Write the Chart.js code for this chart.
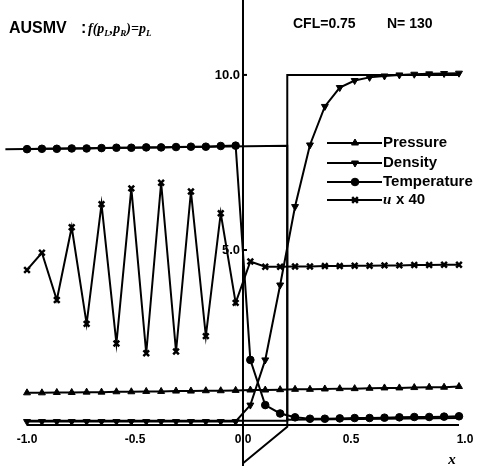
<!DOCTYPE html>
<html>
<head>
<meta charset="utf-8">
<script src="https://cdn.jsdelivr.net/npm/chart.js@4.4.0/dist/chart.umd.min.js"></script>
<style>
html, body { margin: 0; padding: 0; background: #fff; }
#wrap { width: 478px; height: 466px; position: relative; }
</style>
</head>
<body>
<div id="wrap"><canvas id="c"></canvas></div>
<script>
// cell positions
const xs = [-1.0, -0.931, -0.862, -0.793, -0.724, -0.655, -0.586, -0.517, -0.448, -0.379,
            -0.310, -0.241, -0.172, -0.103, -0.034, 0.034, 0.103, 0.172, 0.241, 0.310,
            0.379, 0.448, 0.517, 0.586, 0.655, 0.724, 0.793, 0.862, 0.931, 1.0];

const pressure = [0.92, 0.92, 0.93, 0.93, 0.94, 0.94, 0.95, 0.95, 0.96, 0.96,
                  0.97, 0.97, 0.98, 0.98, 0.99, 1.0, 1.0, 1.01, 1.02, 1.02,
                  1.03, 1.04, 1.04, 1.05, 1.06, 1.06, 1.07, 1.08, 1.08, 1.1];
const density = [0.1, 0.1, 0.1, 0.1, 0.1, 0.1, 0.1, 0.1, 0.1, 0.1,
                 0.1, 0.1, 0.1, 0.1, 0.1, 0.57, 1.86, 4.0, 6.24, 8.0,
                 9.1, 9.64, 9.84, 9.93, 9.97, 10.0, 10.02, 10.03, 10.04, 10.05];
const temperature = [7.88, 7.89, 7.89, 7.9, 7.9, 7.91, 7.92, 7.92, 7.93, 7.93,
                     7.94, 7.95, 7.95, 7.97, 7.98, 1.86, 0.57, 0.33, 0.22, 0.18,
                     0.18, 0.19, 0.2, 0.2, 0.21, 0.22, 0.23, 0.23, 0.24, 0.25];
const velocity40 = [4.43, 4.92, 3.57, 5.65, 2.89, 6.31, 2.33, 6.76, 2.05, 6.92,
                    2.1, 6.67, 2.54, 6.05, 3.49, 4.67, 4.52, 4.52, 4.53, 4.53,
                    4.54, 4.54, 4.55, 4.55, 4.56, 4.56, 4.57, 4.57, 4.58, 4.58];

// exact solution
const exactRhoX = [-1.0, 0.205, 0.205, 1.0];
const exactRho = [0.12, 0.12, 10.0, 10.0];
const exactTX = [-1.1, 0.205, 0.205, 1.0];
const exactT = [7.88, 7.98, 0.15, 0.2];
const exactUX = [0.205, 0.205, 0.0];
const exactU = [0.2, -0.05, -1.09];

const xTicks = [-1.0, -0.5, 0.0, 0.5, 1.0];
const yTicks = [5.0, 10.0];
const seriesNames = ['Pressure', 'Density', 'Temperature', 'u x 40'];

function pts(xv, yv) {
    return xv.map((x, i) => ({ x: x, y: yv[i] }));
}

function series(label, yv, style, extra) {
    return Object.assign({
        label: label,
        data: pts(xs, yv),
        borderColor: '#000',
        backgroundColor: '#000',
        borderWidth: 2,
        pointStyle: style,
        pointRadius: 4,
        pointBorderWidth: 1,
        pointBackgroundColor: '#000',
        pointBorderColor: '#000',
        tension: 0
    }, extra || {});
}

function exact(xv, yv) {
    return {
        label: 'exact',
        data: pts(xv, yv),
        borderColor: '#000',
        borderWidth: 2,
        pointRadius: 0,
        tension: 0
    };
}

const font = '"Liberation Sans", Arial, sans-serif';

const decor = {
    id: 'decor',
    afterDatasetsDraw(chart) {
        const c = chart.ctx;
        const xS = chart.scales.x, yS = chart.scales.y;
        const x0 = xS.getPixelForValue(0), y0 = yS.getPixelForValue(0);
        c.save();
        c.strokeStyle = '#000';
        c.fillStyle = '#000';
        c.lineWidth = 2;
        // axes
        c.beginPath();
        c.moveTo(x0, 0);
        c.lineTo(x0, chart.height);
        c.moveTo(xS.getPixelForValue(-1), y0);
        c.lineTo(xS.getPixelForValue(1), y0);
        c.stroke();
        // y ticks
        c.font = 'bold 13px ' + font;
        c.textAlign = 'right';
        c.textBaseline = 'middle';
        yTicks.forEach(v => {
            const py = yS.getPixelForValue(v);
            c.beginPath();
            c.moveTo(x0, py);
            c.lineTo(x0 + 4, py);
            c.stroke();
            c.fillText(v.toFixed(1), x0 - 3, py);
        });
        // x ticks
        c.font = 'bold 12px ' + font;
        c.textAlign = 'center';
        xTicks.forEach(v => {
            c.fillText(v.toFixed(1), xS.getPixelForValue(v) + (v === 1 ? 6 : 0), y0 + 15);
        });
        c.font = 'bold italic 15px "Liberation Serif", serif';
        c.fillText('x', 452, 460);

        // header
        c.textAlign = 'left';
        c.textBaseline = 'alphabetic';
        c.font = 'bold 16px ' + font;
        c.fillText('AUSMV', 9, 33);
        c.fillText(':', 81, 33);
        let px = 88;
        const parts = [['f(p', 0], ['L', 1], [',p', 0], ['R', 1], [')=p', 0], ['L', 1]];
        parts.forEach(p => {
            c.font = p[1] ? 'bold italic 9px "Liberation Serif", serif' : 'bold italic 14px "Liberation Serif", serif';
            c.fillText(p[0], px, p[1] ? 36 : 33);
            px += c.measureText(p[0]).width;
        });
        c.font = 'bold 14px ' + font;
        c.fillText('CFL=0.75', 293, 28);
        c.fillText('N= 130', 387, 28);

        // legend
        const ly = [143, 163, 182, 200];
        seriesNames.forEach((name, i) => {
            const ds = chart.data.datasets[i];
            const y = ly[i];
            c.lineWidth = 2;
            c.beginPath();
            c.moveTo(327, y);
            c.lineTo(382, y);
            c.stroke();
            c.lineWidth = ds.pointBorderWidth;
            if (Chart.helpers && Chart.helpers.drawPoint) {
                Chart.helpers.drawPoint(c, {
                    pointStyle: ds.pointStyle,
                    rotation: ds.pointRotation || 0,
                    radius: ds.pointRadius,
                    borderWidth: ds.pointBorderWidth
                }, 355, y);
            }
            c.textBaseline = 'middle';
            if (i === 3) {
                c.font = 'bold italic 15px "Liberation Serif", serif';
                c.fillText('u', 383, y);
                c.font = 'bold 15px ' + font;
                c.fillText('x 40', 396, y);
            } else {
                c.font = 'bold 15px ' + font;
                c.fillText(name, 383, y);
            }
        });
        c.restore();
    }
};

new Chart(document.getElementById('c'), {
    type: 'line',
    data: {
        datasets: [
            series(seriesNames[0], pressure, 'triangle'),
            series(seriesNames[1], density, 'triangle', { pointRotation: 180 }),
            series(seriesNames[2], temperature, 'circle', { pointRadius: 3.8 }),
            series(seriesNames[3], velocity40, 'crossRot', { pointBorderWidth: 2.5 }),
            exact(exactRhoX, exactRho),
            exact(exactTX, exactT),
            exact(exactUX, exactU)
        ]
    },
    options: {
        responsive: true,
        maintainAspectRatio: false,
        animation: false,
        layout: { padding: 0, autoPadding: false },
        plugins: { legend: { display: false }, tooltip: { enabled: false } },
        scales: {
            x: { type: 'linear', min: -1.125, max: 1.088, display: false },
            y: { type: 'linear', min: -1.17, max: 12.14, display: false }
        }
    },
    plugins: [decor]
});
</script>
</body>
</html>
